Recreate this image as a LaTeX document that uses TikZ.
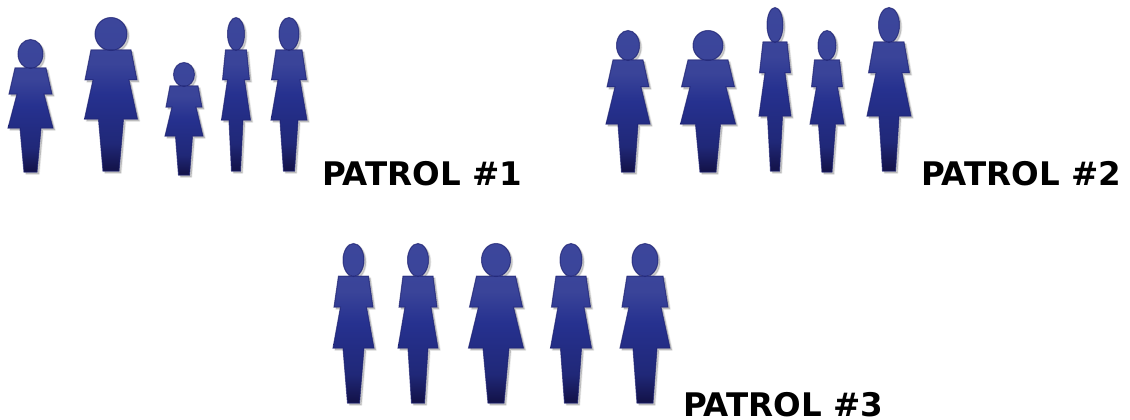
\documentclass[tikz,border=0pt]{standalone}
\usepackage{fontspec}
\setmainfont{DejaVu Sans}
\definecolor{figA}{HTML}{3F4AA0}
\definecolor{figB}{HTML}{3A4499}
\definecolor{figC}{HTML}{26318F}
\definecolor{figD}{HTML}{202878}
\definecolor{figE}{HTML}{14144C}
\definecolor{figedge}{HTML}{1C2070}
\pgfdeclareverticalshading{figshade}{100bp}{
  color(0bp)=(figE);
  color(26bp)=(figE);
  color(34bp)=(figD);
  color(50bp)=(figC);
  color(60bp)=(figB);
  color(100bp)=(figA)}
\tikzset{
  figbody/.style={shading=figshade,shading angle=0,draw=figedge,draw opacity=.7,line width=1pt,line join=miter},
  figshadow/.style={fill=black,fill opacity=.2,draw=black,draw opacity=.08,line width=1.6pt,line join=round,xshift=2pt,yshift=-2pt},
  patrol/.style={anchor=base west,inner sep=0pt,outer sep=0pt,font=\fontsize{32.5}{34}\selectfont\bfseries,text=black}
}
\begin{document}
\begin{tikzpicture}[x=1pt,y=-1pt]
\useasboundingbox (0,0) rectangle (1130,420);
% cx / top / neck / arm / skirt / bottom / head half / shoulder half / arm half / skirt half / leg top half / leg bottom half
\foreach \cx/\tp/\nk/\am/\sk/\bm/\hh/\sh/\ah/\kh/\lt/\lb in {
  30.5/40/68/94/128/172/12.5/15.5/21.5/22.5/10.5/6.5,
  111/18/50/80/119/171/16/20/26/26.5/12.5/8,
  184/63/86/107/136/175/10.5/14/18/19/8.5/5.5,
  236/18/50/80/120/171/8.5/10.5/13.5/14.5/7/4.5,
  289/18/50/80/120/171/10/13/17.5/18/9/5.5,
  628/31/60/87/124/172/11.5/15/21/22/10/6.5,
  708/31/60/87/124/172/15/20/26.5/27.5/12.5/8,
  775/8/42/73/116/171/8/12/15.5/16/7.5/4.5,
  827/31/60/87/124/172/9/12.5/15.5/17/8.5/5,
  889/8/42/73/116/171/10.5/15/20.5/22/10/6.5,
  353.5/244/276/307/348/403/10.5/15/19.5/20.5/10.5/6,
  418/244/276/307/348/403/10.5/15/19/20/10/6.5,
  496/244/276/307/348/403/14.5/19.5/26.5/27.5/13/8,
  571/244/276/307/348/403/11/15/19.5/20.5/10.5/6.5,
  645/244/276/307/348/403/13/18/23/25/12/8}{
  \pgfmathsetmacro{\hy}{(\tp+\nk)/2}
  \pgfmathsetmacro{\hr}{(\nk-\tp)/2+.5}
  \foreach \lay in {figshadow,figbody}{
    \path[\lay] (\cx,\hy) ellipse [x radius=\hh,y radius=\hr]
      (\cx-\sh,\nk) -- (\cx+\sh,\nk) -- (\cx+\ah,\am) -- (\cx+\sh-2,\am)
      -- (\cx+\kh,\sk) -- (\cx+\lt,\sk) -- (\cx+\lb,\bm) -- (\cx-\lb,\bm)
      -- (\cx-\lt,\sk) -- (\cx-\kh,\sk) -- (\cx-\sh+2,\am) -- (\cx-\ah,\am) -- cycle;
  }
}
\node[patrol] (p1) at (322,185) {PATROL \#1};
\node[patrol] (p2) at (921,185) {PATROL \#2};
\node[patrol] (p3) at (683,416) {PATROL \#3};
\end{tikzpicture}
\end{document}
